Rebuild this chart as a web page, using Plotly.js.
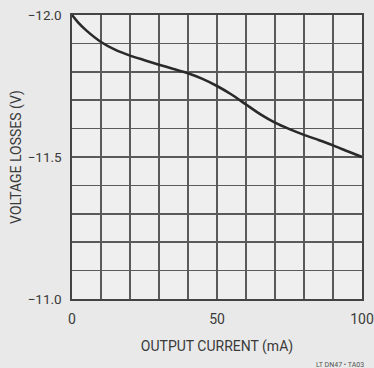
<!DOCTYPE html>
<html>
<head>
<meta charset="utf-8">
<script src="https://cdn.plot.ly/plotly-3.0.1.min.js"></script>
<style>
  html, body { margin: 0; padding: 0; background: #e9e9e9; }
  #chart { width: 374px; height: 368px; }
</style>
</head>
<body>
<div id="chart"></div>
<script>
// Output current (mA)
const outputCurrent = [0, 2, 5, 10, 15, 20, 25, 30, 35, 40, 45, 50, 55, 60, 65, 70, 75, 80, 85, 90, 95, 100];
// Voltage losses (V)
const voltageLosses = [-12.0, -11.975, -11.945, -11.905, -11.877, -11.857, -11.841, -11.825, -11.81, -11.795, -11.775, -11.75, -11.72, -11.685, -11.65, -11.621, -11.598, -11.578, -11.56, -11.541, -11.52, -11.5];

const xGrid = [0, 10, 20, 30, 40, 50, 60, 70, 80, 90, 100];
const xTickText = ['0', '', '', '', '', '50', '', '', '', '', '100'];
const yGrid = [-12.0, -11.9, -11.8, -11.7, -11.6, -11.5, -11.4, -11.3, -11.2, -11.1, -11.0];
const yTickText = ['\u221212.0', '', '', '', '', '\u221211.5', '', '', '', '', '\u221211.0'];

const font = 'Roboto, "Liberation Sans", sans-serif';
const ink = '#3a3a3a';

const trace = {
  x: outputCurrent,
  y: voltageLosses,
  type: 'scatter',
  mode: 'lines',
  line: { color: '#2a2a2a', width: 2.6, shape: 'spline', smoothing: 0.6 },
  hoverinfo: 'skip'
};

const layout = {
  width: 374,
  height: 368,
  margin: { l: 72, r: 12, t: 15, b: 69 },
  paper_bgcolor: '#e9e9e9',
  plot_bgcolor: '#efefef',
  showlegend: false,
  font: { family: font, color: ink, size: 14 },
  xaxis: {
    range: [0, 100],
    tickmode: 'array',
    tickvals: xGrid,
    ticktext: xTickText,
    ticks: '',
    ticklabelstandoff: 7,
    ticklabeloverflow: 'allow',
    tickfont: { family: font, size: 14, color: ink },
    showgrid: true,
    gridcolor: '#5a5a5a',
    gridwidth: 1.5,
    showline: true,
    mirror: true,
    linecolor: '#444444',
    linewidth: 1.6,
    zeroline: false,
    fixedrange: true,
    title: { text: 'OUTPUT CURRENT (mA)', font: { family: font, size: 14, color: ink }, standoff: 15 }
  },
  yaxis: {
    range: [-11.0, -12.0],
    tickmode: 'array',
    tickvals: yGrid,
    ticktext: yTickText,
    ticks: '',
    ticklabelstandoff: 6,
    ticklabeloverflow: 'allow',
    tickfont: { family: font, size: 13.5, color: ink },
    showgrid: true,
    gridcolor: '#5a5a5a',
    gridwidth: 1.5,
    showline: true,
    mirror: true,
    linecolor: '#444444',
    linewidth: 1.6,
    zeroline: false,
    fixedrange: true,
    title: { text: 'VOLTAGE LOSSES (V)', font: { family: font, size: 14, color: ink }, standoff: 3 }
  },
  annotations: [{
    text: 'LT DN47 \u2022 TA03',
    xref: 'paper', yref: 'paper',
    x: 1.014, y: -0.232,
    xanchor: 'right', yanchor: 'middle',
    showarrow: false,
    font: { family: font, size: 7, color: '#555555' }
  }]
};

Plotly.newPlot('chart', [trace], layout, { displayModeBar: false, staticPlot: true });
</script>
</body>
</html>
